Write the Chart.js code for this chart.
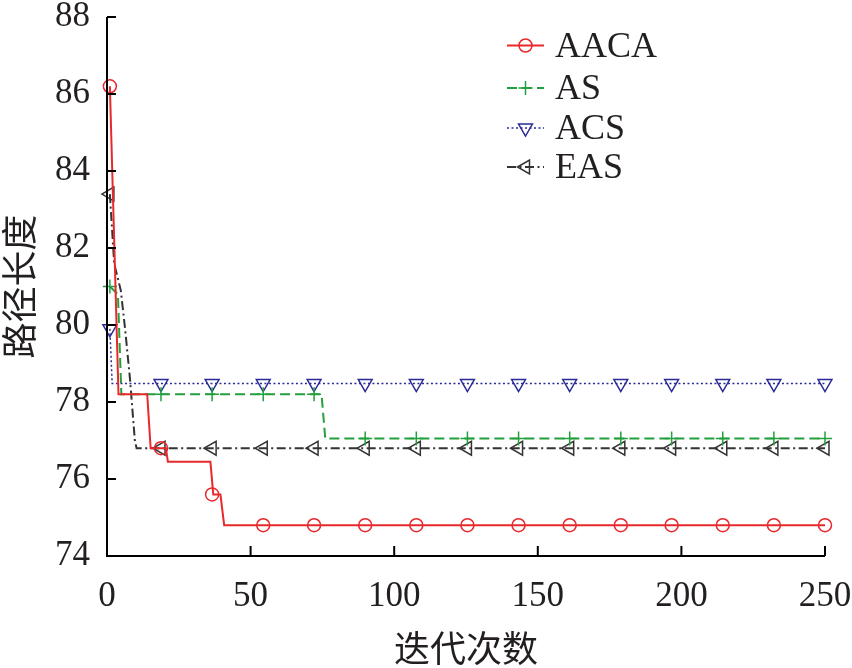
<html>
<head>
<meta charset="utf-8">
<style>
  html, body { margin: 0; padding: 0; background: #fff; }
  #wrap { width: 852px; height: 668px; }
</style>
</head>
<body>
<div id="wrap">
  <canvas id="myChart"></canvas>
</div>

<script src="https://cdn.jsdelivr.net/npm/chart.js"></script>

<script>
  // series names and axis ticks
  const seriesNames = ['AACA', 'AS', 'ACS', 'EAS'];
  const xTicks = [0, 50, 100, 150, 200, 250];
  const yTicks = [74, 76, 78, 80, 82, 84, 86, 88];

  // iterations where the markers sit (same for all four curves)
  const markX = [1, 18.8, 36.6, 54.4, 72.1, 89.9, 107.7, 125.5, 143.3, 161.1, 178.9, 196.6, 214.4, 232.2, 250];

  // AACA: breakpoints of the curve + marker values
  const aacaX = [1, 4, 14, 15.2, 20.5, 21.2, 36, 37, 39.5, 40.8, 250];
  const aacaY = [86.2, 78.2, 78.2, 76.8, 76.8, 76.45, 76.45, 75.6, 75.6, 74.8, 74.8];
  const aacaMarkY = [86.2, 76.8, 75.6, 74.8, 74.8, 74.8, 74.8, 74.8, 74.8, 74.8, 74.8, 74.8, 74.8, 74.8, 74.8];

  // AS
  const asX = [1, 3.8, 5, 74.7, 76, 250];
  const asY = [81.0, 80.8, 78.2, 78.2, 77.05, 77.05];
  const asMarkY = [81.0, 78.2, 78.2, 78.2, 78.2, 77.05, 77.05, 77.05, 77.05, 77.05, 77.05, 77.05, 77.05, 77.05, 77.05];

  // ACS
  const acsX = [1, 1.8, 250];
  const acsY = [79.9, 78.48, 78.48];
  const acsMarkY = [79.9, 78.48, 78.48, 78.48, 78.48, 78.48, 78.48, 78.48, 78.48, 78.48, 78.48, 78.48, 78.48, 78.48, 78.48];

  // EAS
  const easX = [1, 2.5, 4.8, 6.3, 8, 9.7, 10.3, 250];
  const easY = [83.4, 81.6, 80.9, 79.9, 78.6, 77.0, 76.8, 76.8];
  const easMarkY = [83.4, 76.8, 76.8, 76.8, 76.8, 76.8, 76.8, 76.8, 76.8, 76.8, 76.8, 76.8, 76.8, 76.8, 76.8];

  const lineXs = [aacaX, asX, acsX, easX];
  const lineYs = [aacaY, asY, acsY, easY];
  const markYs = [aacaMarkY, asMarkY, acsMarkY, easMarkY];

  // look of each curve
  const styles = [
    { color: '#e8292b', dash: [], width: 2, marker: 'circle', radius: 6.5, rot: 0 },
    { color: '#22a03c', dash: [10, 5], width: 2, marker: 'cross', radius: 7, rot: 0 },
    { color: '#2a2a96', dash: [2, 2.5], width: 1.5, marker: 'triangle', radius: 8, rot: 180 },
    { color: '#333333', dash: [9, 3.5, 2, 3.5], width: 2, marker: 'triangle', radius: 8, rot: 270 }
  ];

  const serif = "'Liberation Serif', 'DejaVu Serif', serif";
  const cjk = "'Noto Sans CJK SC', sans-serif";
  const textColor = '#231f20';

  function pts(xs, ys) {
    return xs.map(function (x, i) { return { x: x, y: ys[i] }; });
  }

  const datasets = [];
  seriesNames.forEach(function (name, i) {
    const s = styles[i];
    datasets.push({
      label: name,
      data: pts(lineXs[i], lineYs[i]),
      showLine: true,
      borderColor: s.color,
      borderWidth: s.width,
      borderDash: s.dash,
      pointRadius: 0,
      fill: false,
      tension: 0
    });
  });
  seriesNames.forEach(function (name, i) {
    const s = styles[i];
    datasets.push({
      label: name + ' marks',
      data: pts(markX, markYs[i]),
      showLine: false,
      pointStyle: s.marker,
      pointRadius: s.radius,
      pointRotation: s.rot,
      pointBorderColor: s.color,
      pointBackgroundColor: 'rgba(0,0,0,0)',
      pointBorderWidth: 1.5,
      clip: false
    });
  });

  function drawMarker(c, type, x, y, r, rot) {
    c.beginPath();
    if (type === 'circle') {
      c.arc(x, y, r, 0, Math.PI * 2);
    } else if (type === 'cross') {
      c.moveTo(x - r, y); c.lineTo(x + r, y);
      c.moveTo(x, y - r); c.lineTo(x, y + r);
    } else {
      let rad = rot * Math.PI / 180;
      for (let k = 0; k < 3; k++) {
        const px = x + Math.sin(rad) * r, py = y - Math.cos(rad) * r;
        if (k === 0) c.moveTo(px, py); else c.lineTo(px, py);
        rad += Math.PI * 2 / 3;
      }
      c.closePath();
    }
    c.stroke();
  }

  // axes with inward ticks, plus the legend inside the plot
  const decor = {
    id: 'decor',
    afterDraw: function (chart) {
      const c = chart.ctx;
      const a = chart.chartArea;
      const xs = chart.scales.x, ys = chart.scales.y;
      c.save();
      c.strokeStyle = '#000';
      c.lineWidth = 2;
      c.setLineDash([]);
      c.beginPath();
      c.moveTo(a.left, a.top); c.lineTo(a.left, a.bottom); c.lineTo(a.right, a.bottom);
      yTicks.forEach(function (v) {
        const py = ys.getPixelForValue(v);
        c.moveTo(a.left, py); c.lineTo(a.left + 9, py);
      });
      xTicks.forEach(function (v) {
        if (v === 0) return;
        const px = xs.getPixelForValue(v);
        c.moveTo(px, a.bottom); c.lineTo(px, a.bottom - 10);
      });
      c.stroke();

      const rowY = [45.5, 88, 128, 167];
      seriesNames.forEach(function (name, i) {
        const s = styles[i];
        const y = rowY[i];
        c.strokeStyle = s.color;
        c.lineWidth = s.width;
        c.setLineDash(s.dash);
        c.beginPath();
        c.moveTo(507, y); c.lineTo(544, y);
        c.stroke();
        c.setLineDash([]);
        c.lineWidth = 1.5;
        drawMarker(c, s.marker, 525.5, y, s.radius, s.rot);
        c.fillStyle = textColor;
        c.font = '36px ' + serif;
        c.textBaseline = 'middle';
        c.textAlign = 'left';
        c.fillText(name, 555, y + 2);
      });
      c.restore();
    }
  };

  const ctx = document.getElementById('myChart');

  chart = new Chart(ctx, {
    type: 'scatter',
    data: { datasets: datasets },
    options: {
      responsive: true,
      maintainAspectRatio: false,
      animation: false,
      layout: { autoPadding: false, padding: { top: 17, right: 27, left: 0, bottom: 0 } },
      plugins: {
        legend: { display: false },
        tooltip: { enabled: false }
      },
      scales: {
        x: {
          type: 'linear',
          min: 0,
          max: 250,
          afterFit: function (s) {
            s.height = 112;
            s.paddingLeft = 0; s.paddingRight = 0; s.paddingTop = 0; s.paddingBottom = 0;
          },
          afterBuildTicks: function (s) { s.ticks = xTicks.map(function (v) { return { value: v }; }); },
          grid: { display: false, drawTicks: false },
          border: { display: false },
          ticks: { padding: 20, color: textColor, font: { family: serif, size: 35 } },
          title: {
            display: true,
            text: '迭代次数',
            color: textColor,
            font: { family: cjk, size: 36, lineHeight: 1.0 },
            padding: { top: 0, bottom: 2 }
          }
        },
        y: {
          type: 'linear',
          min: 74,
          max: 88,
          afterFit: function (s) {
            s.width = 107;
            s.paddingLeft = 0; s.paddingRight = 0; s.paddingTop = 0; s.paddingBottom = 0;
          },
          afterBuildTicks: function (s) { s.ticks = yTicks.map(function (v) { return { value: v }; }); },
          grid: { display: false, drawTicks: false },
          border: { display: false },
          ticks: { padding: 17, color: textColor, font: { family: serif, size: 35 } },
          title: {
            display: true,
            text: '路径长度',
            color: textColor,
            font: { family: cjk, size: 36, lineHeight: 1.05 },
            padding: { top: 0, bottom: 0 }
          }
        }
      }
    },
    plugins: [decor]
  });
</script>
</body>
</html>
